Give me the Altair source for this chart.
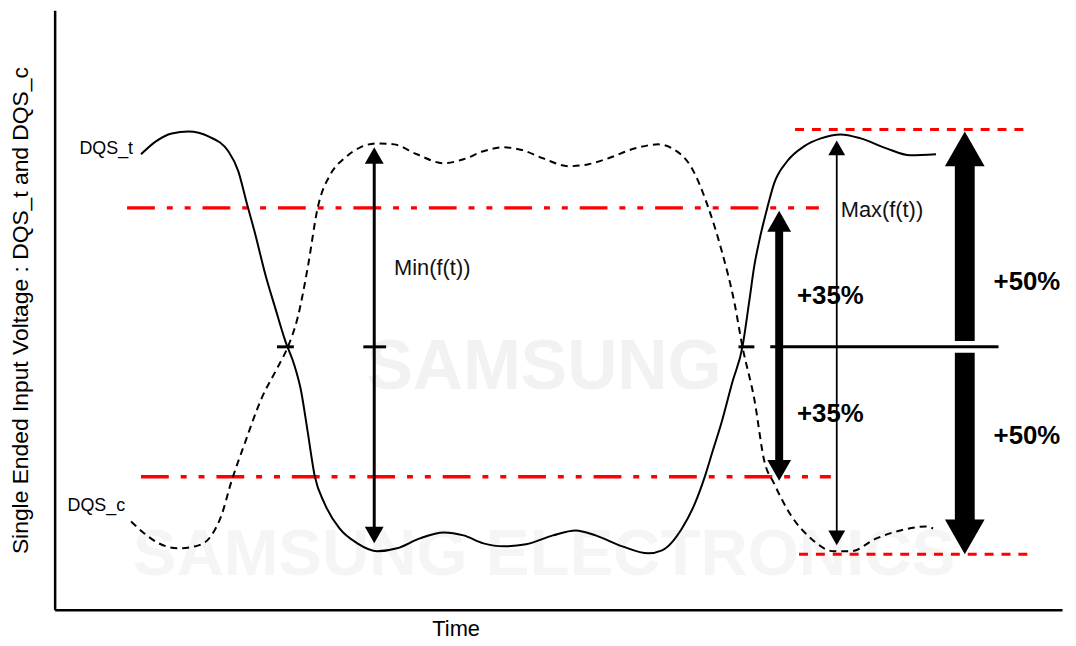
import altair as alt
import pandas as pd

# ---- data (time in arbitrary units, voltage relative to the crossing level) ----
dqs_t_time = [142, 157, 173, 190, 210, 230, 240, 248, 257, 267, 277, 287, 297, 303, 310, 317,
              327, 342, 360, 380, 400, 423, 447, 467, 487, 507, 530, 557, 580, 600, 627, 653,
              667, 687, 700, 710, 718, 727, 738, 748, 755, 760, 765, 773, 780, 793, 810, 827,
              847, 867, 893, 917, 943]
dqs_t_volt = [194, 207, 215, 217, 212, 197, 177, 147, 114, 74, 40, 7, -20, -43, -86, -130,
              -158, -183, -198, -206, -203, -193, -187, -190, -198, -201, -199, -190, -185, -190, -201, -208,
              -205, -183, -158, -131, -105, -76, -35, 0, 47, 82, 107, 140, 165, 187, 202, 210,
              214, 210, 200, 193, 194]

dqs_c_time = [132, 143, 160, 180, 200, 213, 223, 233, 247, 263, 280, 290, 300, 310, 320, 333,
              347, 363, 380, 397, 420, 447, 467, 487, 507, 527, 547, 573, 593, 613, 640, 663,
              677, 697, 713, 727, 740, 748, 760, 770, 780, 797, 817, 840, 857, 883, 907, 933, 940]
dqs_c_volt = [-176, -186, -198, -203, -200, -190, -170, -136, -96, -53, -20, 0, 30, 80, 140, 174,
              190, 201, 205, 204, 194, 185, 189, 197, 201, 198, 190, 182, 184, 190, 200, 204,
              200, 180, 142, 97, 44, 0, -53, -115, -138, -170, -193, -206, -206, -193, -185, -181, -183]

# reference levels
vih_vil_levels = [140, -131]          # +/-35 % dash-dot levels
vih_vil_start = [128, 142]
vih_vil_end = [825, 837]
peak_levels = [219, -209]             # +/-50 % dashed levels
peak_start = [801, 805]
peak_end = [1035, 1037]

# crossing marks on the mid level
mid_start = [279, 366, 744, 776]
mid_end = [296, 389, 760, 1006]

# arrows
arrow_names = ["Min", "Max", "35", "50up", "50dn"]
arrow_time = [377, 843, 785, 972, 972]
arrow_from = [187, 197, 119, 184, -6]
arrow_to = [-186, -189, -118, 6, -176]
arrow_width = [3, 1.8, 8, 20, 20]

head_time = [377, 377, 843, 843, 785, 785, 972, 972]
head_volt = [201, -198, 208, -200, 137, -135, 217, -209]
head_dir = ["up", "down", "up", "down", "up", "down", "up", "down"]
head_size = [361, 361, 289, 289, 576, 576, 1600, 1600]

# labels
sig_labels = ["DQS_t", "DQS_c"]
sig_time = [134, 126]
sig_volt = [199, -160]

meas_labels = ["Min(f(t))", "Max(f(t))"]
meas_time = [397, 847]
meas_volt = [79, 138]

pct_labels = ["+35%", "+35%", "+50%", "+50%"]
pct_time = [803, 803, 1001, 1001]
pct_volt = [51, -68, 65, -90]

wm_labels = ["SAMSUNG", "SAMSUNG ELECTRONICS"]
wm_time = [548, 548]
wm_volt = [-21, -210]

FONT = "Liberation Sans"
UP = "M0,0L1,1.75L-1,1.75Z"
DOWN = "M0,0L1,-1.75L-1,-1.75Z"

xs = alt.Scale(domain=[55, 1070], nice=False, zero=False)
ys = alt.Scale(domain=[-265, 339], nice=False, zero=False)

x_axis = alt.Axis(title="Time", domain=True, ticks=False, labels=False, grid=False,
                  domainColor="black", domainWidth=2.5, titleX=404, titleY=19,
                  titleBaseline="middle", titleAlign="center", titleFontSize=22,
                  titleFont=FONT, titleFontWeight="normal", titleColor="black")
y_axis = alt.Axis(title="Single Ended Input Voltage : DQS_t and DQS_c", domain=True, ticks=False,
                  labels=False, grid=False, domainColor="black", domainWidth=2.5,
                  titleAngle=270, titleX=-34, titleY=302, titleBaseline="middle",
                  titleAlign="center", titleFontSize=23, titleFont=FONT,
                  titleFontWeight="normal", titleColor="black")

X = alt.X("t:Q", scale=xs, axis=x_axis)
Y = alt.Y("v:Q", scale=ys, axis=y_axis)

# watermark
wm_df = pd.DataFrame({"t": wm_time, "v": wm_volt, "label": wm_labels})
wm1 = alt.Chart(wm_df.iloc[[0]]).mark_text(font=FONT, fontSize=70, fontWeight="bold",
                                           color="#f2f2f2", baseline="middle").encode(
    x=X, y=Y, text="label:N")
wm2 = alt.Chart(wm_df.iloc[[1]]).mark_text(font=FONT, fontSize=66, fontWeight="bold",
                                           color="#f5f5f5", baseline="middle").encode(
    x=X, y=Y, text="label:N")

dd_df = pd.DataFrame({"t": vih_vil_start, "t2": vih_vil_end, "v": vih_vil_levels})
dashdot = alt.Chart(dd_df).mark_rule(color="#ff0000", strokeWidth=3.5,
                                     strokeDash=[28, 12, 6, 12, 6, 12]).encode(
    x=X, x2="t2:Q", y=Y)

pk_df = pd.DataFrame({"t": peak_start, "t2": peak_end, "v": peak_levels})
dashed = alt.Chart(pk_df).mark_rule(color="#ff0000", strokeWidth=3, strokeDash=[9, 8]).encode(
    x=X, x2="t2:Q", y=Y)

t_df = pd.DataFrame({"t": dqs_t_time, "v": dqs_t_volt})
c_df = pd.DataFrame({"t": dqs_c_time, "v": dqs_c_volt})
line_t = alt.Chart(t_df).mark_line(color="black", strokeWidth=2, interpolate="monotone").encode(
    x=X, y=Y)
line_c = alt.Chart(c_df).mark_line(color="black", strokeWidth=2, strokeDash=[7, 5],
                                   interpolate="monotone").encode(x=X, y=Y)

mid_df = pd.DataFrame({"t": mid_start, "t2": mid_end, "v": [0] * len(mid_start)})
mid = alt.Chart(mid_df).mark_rule(color="black", strokeWidth=3).encode(x=X, x2="t2:Q", y=Y)

sh_df = pd.DataFrame({"name": arrow_names, "t": arrow_time, "v": arrow_from, "v2": arrow_to,
                      "w": arrow_width})
shafts = alt.Chart(sh_df).mark_rule(color="black").encode(
    x=X, y=Y, y2="v2:Q", strokeWidth=alt.StrokeWidth("w:Q", scale=None))

hd_df = pd.DataFrame({"t": head_time, "v": head_volt,
                      "path": [UP if d == "up" else DOWN for d in head_dir], "s": head_size})
heads = alt.Chart(hd_df).mark_point(filled=True, opacity=1, color="black", strokeWidth=0).encode(
    x=X, y=Y, shape=alt.Shape("path:N", scale=None), size=alt.Size("s:Q", scale=None))

sig_df = pd.DataFrame({"t": sig_time, "v": sig_volt, "label": sig_labels})
sig = alt.Chart(sig_df).mark_text(font=FONT, fontSize=18, align="right", baseline="middle",
                                  color="black").encode(x=X, y=Y, text="label:N")

meas_df = pd.DataFrame({"t": meas_time, "v": meas_volt, "label": meas_labels})
meas = alt.Chart(meas_df).mark_text(font=FONT, fontSize=22, align="left", baseline="middle",
                                    color="#111111").encode(x=X, y=Y, text="label:N")

pct_df = pd.DataFrame({"t": pct_time, "v": pct_volt, "label": pct_labels})
pct = alt.Chart(pct_df).mark_text(font=FONT, fontSize=26, fontWeight="bold", align="left",
                                  baseline="middle", color="black").encode(x=X, y=Y, text="label:N")

chart = alt.layer(wm1, wm2, dashdot, dashed, line_c, line_t, mid, shafts, heads, sig, meas, pct).properties(
    width=1015, height=604, autosize="none",
    padding={"left": 47, "top": 0, "right": 6, "bottom": 30},
    background="white",
).configure_view(stroke=None)

chart.save("out.html", embed_options={"renderer": "svg", "actions": False})
